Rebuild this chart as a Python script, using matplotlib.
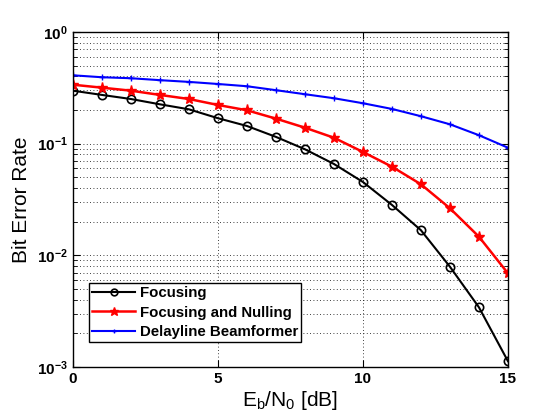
import matplotlib
matplotlib.use("Agg")
import matplotlib.pyplot as plt
from matplotlib.ticker import LogLocator, NullFormatter, FixedLocator

plt.rcParams['font.family'] = ['Liberation Sans', 'DejaVu Sans']

ebn0 = list(range(16))
ber_focus = [0.298, 0.273, 0.251, 0.225, 0.203, 0.169, 0.144, 0.115,
             0.0891, 0.0658, 0.0454, 0.0283, 0.0168, 0.00792, 0.00343, 0.00113]
ber_null = [0.337, 0.317, 0.298, 0.273, 0.251, 0.222, 0.199, 0.1675,
            0.139, 0.113, 0.0843, 0.0622, 0.0433, 0.0264, 0.0147, 0.00691]
ber_delay = [0.409, 0.393, 0.385, 0.370, 0.357, 0.342, 0.3265, 0.301,
             0.277, 0.255, 0.230, 0.2045, 0.176, 0.149, 0.119, 0.092]
x_ticks = [0, 5, 10, 15]

fig = plt.figure(figsize=(5.6, 4.2), dpi=100)
ax = fig.add_axes([0.130, 0.126, 0.777, 0.798])

ax.semilogy(ebn0, ber_focus, 'k-o', lw=1.5, ms=6, mfc='none', mew=1.2,
            label='Focusing')
ax.semilogy(ebn0, ber_null, '-*', color='#ff0000', lw=1.8, ms=8, mew=1.0,
            label='Focusing and Nulling')
ax.semilogy(ebn0, ber_delay, '-+', color='#0000ff', lw=1.5, ms=4, mew=1.0,
            label='Delayline Beamformer')

ax.set_xlim(0, 15)
ax.set_ylim(1e-3, 1)
ax.xaxis.set_major_locator(FixedLocator(x_ticks))
ax.yaxis.set_major_locator(LogLocator(base=10, numticks=10))
ax.yaxis.set_minor_locator(LogLocator(base=10, subs=range(2, 10), numticks=20))
ax.yaxis.set_minor_formatter(NullFormatter())

ax.grid(True, which='major', ls=(0, (1, 3)), color='k', lw=0.6)
ax.grid(True, which='minor', axis='y', ls=(0, (1, 3)), color='k', lw=0.6)
ax.tick_params(which='both', direction='in', top=True, right=True)
ax.tick_params(which='major', length=5, labelsize=11)
ax.tick_params(which='minor', length=3)
for lbl in ax.get_xticklabels() + ax.get_yticklabels():
    lbl.set_fontweight('bold')
for sp in ax.spines.values():
    sp.set_linewidth(1.0)

ax.set_xlabel(r'E$_\mathregular{b}$/N$_\mathregular{0}$ [dB]', fontsize=15, labelpad=2)
ax.set_ylabel('Bit Error Rate', fontsize=15, labelpad=4)

leg = ax.legend(loc='lower left', bbox_to_anchor=(0.037, 0.075), fancybox=False,
                edgecolor='k', framealpha=1, borderaxespad=0, handlelength=2.9,
                prop={'weight': 'bold', 'size': 10.8}, labelspacing=0.35,
                borderpad=0.2, handletextpad=0.3, markerscale=0.8)
leg.get_frame().set_linewidth(1.0)

fig.savefig('out.png', dpi=100)
